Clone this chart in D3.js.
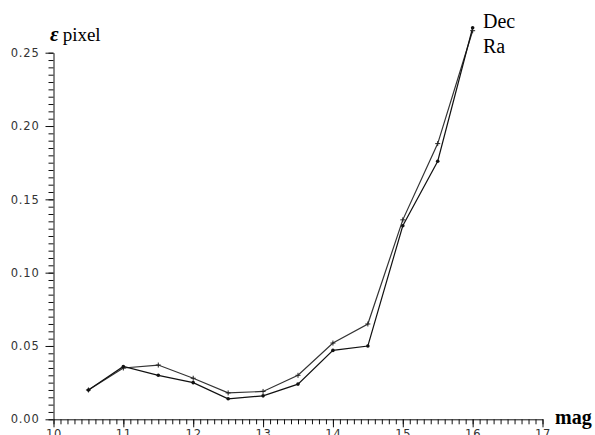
<!DOCTYPE html>
<html lang="en">
<head>
    <meta charset="UTF-8">
    <title>Error vs magnitude</title>
    <script src="https://d3js.org/d3.v7.min.js"></script>
    <style>
        body { margin: 0; background: #fff; }
        .tick text { font-family: "DejaVu Sans", sans-serif; font-size: 11.5px; fill: #333; letter-spacing: 0.8px; }
        .serif { font-family: "Liberation Serif", "Times New Roman", serif; fill: #000; }
    </style>
</head>
<body>
    <div id="chart"></div>
    <script>
        // Data
        const mags = [10.5, 11, 11.5, 12, 12.5, 13, 13.5, 14, 14.5, 15, 15.5, 16];
        const decValues = [0.020, 0.036, 0.030, 0.025, 0.014, 0.016, 0.024, 0.047, 0.050, 0.132, 0.176, 0.267];
        const raValues  = [0.020, 0.035, 0.037, 0.028, 0.018, 0.019, 0.030, 0.052, 0.065, 0.136, 0.188, 0.265];
        const xTicks = [10, 11, 12, 13, 14, 15, 16, 17];
        const yTicks = [0.00, 0.05, 0.10, 0.15, 0.20, 0.25];

        const W = 595, H = 435;
        const svg = d3.select('#chart').append('svg')
            .attr('width', W)
            .attr('height', H);

        const x = d3.scaleLinear().domain([10, 17]).range([53.5, 542.5]);
        const y = d3.scaleLinear().domain([0, 0.25]).range([419.3, 52.7]);

        // Minor ticks
        const xMinor = d3.range(100, 171).map(d => d / 10);
        const yMinor = d3.range(0, 51).map(d => d / 200);

        svg.append('g')
            .attr('transform', `translate(0,${y(0)})`)
            .call(d3.axisBottom(x).tickValues(xMinor).tickSize(5).tickFormat(''))
            .call(g => g.select('.domain').remove());
        svg.append('g')
            .attr('transform', `translate(${x(10)},0)`)
            .call(d3.axisLeft(y).tickValues(yMinor).tickSize(5).tickFormat(''))
            .call(g => g.select('.domain').remove());

        // Major ticks and labels
        svg.append('g')
            .attr('transform', `translate(0,${y(0)})`)
            .call(d3.axisBottom(x).tickValues(xTicks).tickSize(8).tickSizeOuter(0).tickPadding(3).tickFormat(d3.format('d')));
        svg.append('g')
            .attr('transform', `translate(${x(10)},0)`)
            .call(d3.axisLeft(y).tickValues(yTicks).tickSize(8).tickSizeOuter(0).tickPadding(6).tickFormat(d3.format('.2f')));

        svg.selectAll('.domain, .tick line').attr('stroke', '#111');

        // Series
        const line = d3.line().x(d => x(d[0])).y(d => y(d[1]));
        const dec = mags.map((m, i) => [m, decValues[i]]);
        const ra = mags.map((m, i) => [m, raValues[i]]);

        svg.append('path').datum(ra)
            .attr('d', line).attr('fill', 'none').attr('stroke', '#333').attr('stroke-width', 1.2);
        svg.append('path').datum(dec)
            .attr('d', line).attr('fill', 'none').attr('stroke', '#111').attr('stroke-width', 1.2);

        svg.append('g').selectAll('path')
            .data(ra)
            .join('path')
            .attr('d', d => `M${x(d[0]) - 2.5},${y(d[1])}h5M${x(d[0])},${y(d[1]) - 2.5}v5`)
            .attr('stroke', '#222')
            .attr('stroke-width', 1);
        svg.append('g').selectAll('circle')
            .data(dec)
            .join('circle')
            .attr('cx', d => x(d[0]))
            .attr('cy', d => y(d[1]))
            .attr('r', 1.8)
            .attr('fill', '#111');

        // Labels
        const yl = svg.append('text').attr('class', 'serif').attr('x', 50).attr('y', 41);
        yl.append('tspan').attr('font-family', '"Liberation Serif", serif').attr('font-size', 21)
            .attr('font-weight', 'bold').attr('font-style', 'italic').text('ε');
        yl.append('tspan').attr('font-family', '"Liberation Serif", serif').attr('font-size', 19)
            .attr('dx', 4).text('pixel');

        svg.append('text').attr('class', 'serif').attr('x', 483).attr('y', 28).attr('font-size', 20).text('Dec');
        svg.append('text').attr('class', 'serif').attr('x', 483).attr('y', 53).attr('font-size', 20).text('Ra');
        svg.append('text').attr('class', 'serif').attr('x', 555).attr('y', 424).attr('font-size', 20).attr('font-weight', 'bold').text('mag');
    </script>
</body>
</html>
